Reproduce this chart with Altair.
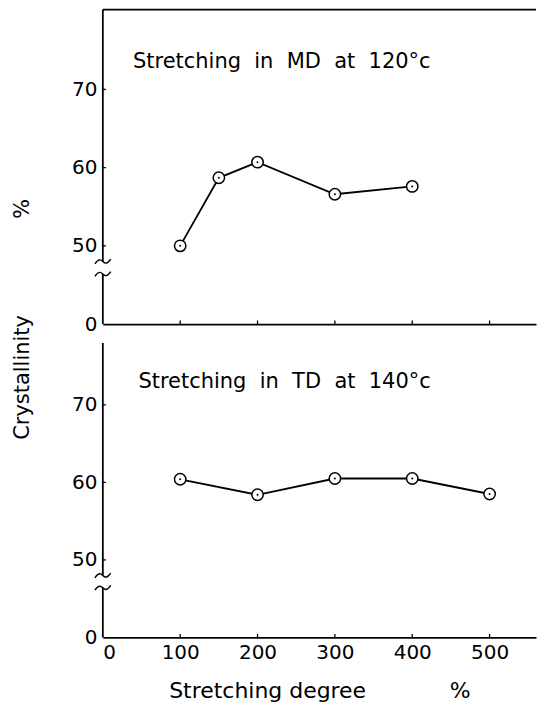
import altair as alt
import pandas as pd

# ---- data ----
x_tick_values = [0, 100, 200, 300, 400, 500]
y_tick_values = [50, 60, 70]

md_x = [100, 150, 200, 300, 400]
md_y = [50.0, 58.7, 60.7, 56.6, 57.6]

td_x = [100, 200, 300, 400, 500]
td_y = [60.4, 58.4, 60.5, 60.5, 58.5]

NB = "\u00a0"
md_label = NB.join(["Stretching", "", "in", "", "MD", "", "at", "", "120°c"])
td_label = NB.join(["Stretching", "", "in", "", "TD", "", "at", "", "140°c"])
x_title = "Stretching" + NB + "degree" + NB * 12 + "%"

FONT = "DejaVu Sans"
PLOT_W = 434
X_MAX = 560.0
ZERO_POS = 40          # display position of the "0" level below the axis break
BREAK_HI = 48.0        # end of upper axis piece
BREAK_LO = 46.4        # start of lower axis piece
TILDE = "M -1 0.3 C -0.55 -0.4 -0.25 -0.25 0 0 C 0.25 0.25 0.55 0.4 1 -0.3"
LW = 1.8
PAD = {"left": 4, "top": 0, "right": 0, "bottom": 0}


def panel(xs, ys, label, label_x, label_y, ymax, height, bottom, y_title, title_x, title_y, top_border):
    xsc = alt.Scale(domain=[0, X_MAX], nice=False, zero=False)
    ysc = alt.Scale(domain=[ZERO_POS, ymax], nice=False, zero=False)

    x_axis = alt.Axis(
        values=x_tick_values, ticks=False, grid=False, domain=True,
        domainColor="black", domainWidth=LW,
        labels=bottom, labelFont=FONT, labelFontSize=20, labelColor="black",
        labelPadding=5, title=x_title if bottom else "",
        titleFont=FONT, titleFontSize=22, titleFontWeight="normal",
        titleColor="black", titlePadding=18,
    )
    y_axis = alt.Axis(
        values=[ZERO_POS] + y_tick_values, ticks=False, grid=False, domain=False,
        labelExpr="datum.value == 40 ? '0' : datum.label",
        labelFont=FONT, labelFontSize=20, labelColor="black", labelPadding=6,
        title=y_title, titleFont=FONT, titleFontSize=21,
        titleFontWeight="normal", titleColor="black",
        titleX=title_x, titleY=title_y, titleAngle=-90,
        titleAlign="center", titleBaseline="middle",
    )
    X = alt.X("x:Q", scale=xsc, axis=x_axis)
    Y = alt.Y("y:Q", scale=ysc, axis=y_axis)

    df = pd.DataFrame({"x": xs, "y": ys})
    line = alt.Chart(df).mark_line(color="black", strokeWidth=LW).encode(x=X, y=Y)
    circles = alt.Chart(df).mark_point(
        shape="circle", size=130, filled=True, fill="white", stroke="black",
        strokeWidth=1.5, opacity=1, fillOpacity=1,
    ).encode(x=X, y=Y)
    dots = alt.Chart(df).mark_point(
        shape="circle", size=4, filled=True, color="black", opacity=1,
    ).encode(x=X, y=Y)

    axis_df = pd.DataFrame({"x": [0, 0], "y": [BREAK_HI, ZERO_POS], "y2": [ymax, BREAK_LO]})
    axis_line = alt.Chart(axis_df).mark_rule(color="black", strokeWidth=LW).encode(
        x=X, y=Y, y2="y2:Q"
    )
    brk_df = pd.DataFrame({"x": [0, 0], "y": [BREAK_HI, BREAK_LO]})
    breaks = alt.Chart(brk_df).mark_point(
        shape=TILDE, size=250, filled=False, stroke="black", strokeWidth=1.4, opacity=1,
    ).encode(x=X, y=Y)

    yt_df = pd.DataFrame({"x": [0] * len(y_tick_values), "x2": [4] * len(y_tick_values), "y": y_tick_values})
    yticks = alt.Chart(yt_df).mark_rule(color="black", strokeWidth=1.3).encode(
        x=X, x2="x2:Q", y=Y
    )
    xt_vals = x_tick_values[1:]
    xt_df = pd.DataFrame({"x": xt_vals, "y": [ZERO_POS] * len(xt_vals), "y2": [ZERO_POS + 0.45] * len(xt_vals)})
    xticks = alt.Chart(xt_df).mark_rule(color="black", strokeWidth=1.3).encode(
        x=X, y=Y, y2="y2:Q"
    )

    txt_df = pd.DataFrame({"x": [label_x], "y": [label_y], "t": [label]})
    text = alt.Chart(txt_df).mark_text(
        align="left", baseline="alphabetic", font=FONT, fontSize=21, color="black",
    ).encode(x=X, y=Y, text="t:N")

    layers = [line, axis_line, breaks, yticks, xticks]
    if top_border:
        tb_df = pd.DataFrame({"x": [0], "x2": [X_MAX], "y": [ymax]})
        layers.append(alt.Chart(tb_df).mark_rule(color="black", strokeWidth=LW).encode(
            x=X, x2="x2:Q", y=Y
        ))
    layers += [circles, dots, text]
    return alt.layer(*layers).properties(width=PLOT_W, height=height)


top = panel(md_x, md_y, md_label, 39, 72.7, 80.2, 315, False, "%", -80, 199, True)
bottom = panel(td_x, td_y, td_label, 46, 72.2, 77.97, 295, True, "Crystallinity", -80, 34, False)

chart = alt.vconcat(top, bottom, spacing=19, bounds="flush", padding=PAD).configure(
    background="white", padding=PAD
).configure_view(strokeWidth=0, stroke="transparent")

chart.save("out.html", embed_options={"renderer": "svg", "actions": False, "padding": PAD})
